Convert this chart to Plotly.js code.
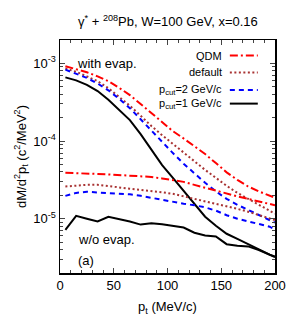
<!DOCTYPE html>
<html><head><meta charset="utf-8">
<script src="https://cdn.plot.ly/plotly-3.0.1.min.js"></script>
<style>html,body{margin:0;padding:0;background:#fff}#c{width:300px;height:332px}</style>
</head><body><div id="c"></div>
<script>
const pt = [5,15,25,35,45,55,65,75,85,95,105,115,125,135,145,155,165,175,185,195,200];

// with evaporation
const qdmWith  = [9.2e-4,8.4e-4,7.7e-4,6.8e-4,5.9e-4,4.85e-4,3.9e-4,3.0e-4,2.3e-4,1.78e-4,1.34e-4,1.08e-4,8.6e-5,6.8e-5,5.2e-5,3.95e-5,3.16e-5,2.6e-5,2.25e-5,1.97e-5,1.86e-5];
const defWith  = [8.6e-4,7.8e-4,6.8e-4,5.9e-4,4.8e-4,3.7e-4,2.85e-4,2.12e-4,1.56e-4,1.19e-4,9.2e-5,7.0e-5,5.4e-5,4.25e-5,3.36e-5,2.65e-5,2.15e-5,1.8e-5,1.51e-5,1.27e-5,1.16e-5];
const p2With   = [8.3e-4,7.4e-4,6.5e-4,5.5e-4,4.5e-4,3.5e-4,2.65e-4,1.91e-4,1.36e-4,9.7e-5,7.0e-5,5.1e-5,3.8e-5,2.9e-5,2.25e-5,1.8e-5,1.51e-5,1.29e-5,1.11e-5,9.6e-6,8.9e-6];
const p1With   = [6.6e-4,6.05e-4,5.3e-4,4.4e-4,3.4e-4,2.5e-4,1.86e-4,1.23e-4,7.7e-5,4.9e-5,3.36e-5,2.29e-5,1.56e-5,1.06e-5,8.1e-6,6.4e-6,5.5e-6,4.7e-6,4.0e-6,3.45e-6,3.26e-6];

// without evaporation
const qdmWo = [3.9e-5,3.83e-5,3.77e-5,3.77e-5,3.72e-5,3.67e-5,3.61e-5,3.56e-5,3.45e-5,3.3e-5,3.16e-5,2.98e-5,2.73e-5,2.5e-5,2.29e-5,2.09e-5,1.94e-5,1.8e-5,1.67e-5,1.56e-5,1.49e-5];
const defWo = [2.6e-5,2.69e-5,2.73e-5,2.73e-5,2.65e-5,2.53e-5,2.43e-5,2.35e-5,2.29e-5,2.19e-5,2.09e-5,1.94e-5,1.8e-5,1.7e-5,1.58e-5,1.45e-5,1.34e-5,1.23e-5,1.12e-5,1.01e-5,9.6e-6];
const p2Wo  = [1.97e-5,2.15e-5,2.22e-5,2.19e-5,2.15e-5,2.12e-5,2.06e-5,1.97e-5,1.86e-5,1.73e-5,1.63e-5,1.56e-5,1.49e-5,1.4e-5,1.27e-5,1.11e-5,1.0e-5,9.3e-6,8.6e-6,7.9e-6,7.2e-6];
const p1Wo  = [7.2e-6,1.09e-5,1.0e-5,9.2e-6,1.06e-5,9.9e-6,9.2e-6,8.4e-6,8.75e-6,8.5e-6,8.0e-6,7.7e-6,6.6e-6,6.1e-6,5.9e-6,4.7e-6,4.5e-6,4.4e-6,3.95e-6,3.4e-6,3.2e-6];

const seriesNames = ['QDM','default','p<sub>cut</sub>=2 GeV/c','p<sub>cut</sub>=1 GeV/c'];
const xTickVals = [0,50,100,150,200];
const yTickVals = [1e-5,1e-4,1e-3];
const yTickText = ['10<sup>-5</sup>','10<sup>-4</sup>','10<sup>-3</sup>'];

const styles = [
  {color:'#ff0000', dash:'8px,3px,2px,3px', width:2},
  {color:'#a83232', dash:'2px,2.5px', width:2},
  {color:'#0000ff', dash:'5px,4px', width:2},
  {color:'#000000', dash:'solid', width:2}
];
const withSets = [qdmWith, defWith, p2With, p1With];
const woSets = [qdmWo, defWo, p2Wo, p1Wo];

const traces = [];
withSets.forEach((ys,i)=>traces.push({x:pt,y:ys,type:'scatter',mode:'lines',line:styles[i],showlegend:false,hoverinfo:'skip'}));
woSets.forEach((ys,i)=>traces.push({x:pt,y:ys,type:'scatter',mode:'lines',line:styles[i],showlegend:false,hoverinfo:'skip'}));

const fnt = {family:'Liberation Sans, Arial, sans-serif', color:'#000'};
const legY = [0.933,0.861,0.785,0.727];
const annotations = [
  {text:'&#947;<sup>*</sup> + <sup>208</sup>Pb, W=100 GeV, x=0.16', xref:'paper', yref:'paper', x:0.5, y:1.08, xanchor:'center', yanchor:'middle', showarrow:false, font:Object.assign({size:13},fnt)},
  {text:'with evap.', xref:'paper', yref:'paper', x:0.072, y:0.897, xanchor:'left', yanchor:'middle', showarrow:false, font:Object.assign({size:13},fnt)},
  {text:'w/o evap.', xref:'paper', yref:'paper', x:0.075, y:0.142, xanchor:'left', yanchor:'middle', showarrow:false, font:Object.assign({size:13},fnt)},
  {text:'(a)', xref:'paper', yref:'paper', x:0.075, y:0.052, xanchor:'left', yanchor:'middle', showarrow:false, font:Object.assign({size:13},fnt)}
];
const shapes = [];
seriesNames.forEach((n,i)=>{
  annotations.push({text:n, xref:'paper', yref:'paper', x:0.765, y:legY[i], xanchor:'right', yanchor:'middle', showarrow:false, font:Object.assign({size:11},fnt)});
  shapes.push({type:'line', xref:'paper', yref:'paper', x0:0.79, x1:0.92, y0:legY[i], y1:legY[i], line:styles[i]});
});

const layout = {
  width:300, height:332,
  margin:{l:60, r:25, t:40, b:59},
  paper_bgcolor:'#fff', plot_bgcolor:'#fff',
  font:Object.assign({size:13},fnt),
  showlegend:false,
  xaxis:{range:[0,200], tickvals:xTickVals, ticks:'inside', ticklen:5, mirror:'ticks', showline:true, linecolor:'#000', linewidth:1.5, showgrid:false, zeroline:false,
    minor:{dtick:10, ticks:'inside', ticklen:3, showgrid:false},
    title:{text:'p<sub>t</sub> (MeV/c)', font:Object.assign({size:13},fnt), standoff:10}},
  yaxis:{type:'log', range:[Math.log10(2e-6), Math.log10(2e-3)], tickvals:yTickVals, ticktext:yTickText, ticks:'inside', ticklen:5, mirror:'ticks', showline:true, linecolor:'#000', linewidth:1.5, showgrid:false, zeroline:false,
    minor:{dtick:'D1', ticks:'inside', ticklen:3, showgrid:false},
    title:{text:'dM/d<sup>2</sup>p<sub>t</sub> (c<sup>2</sup>/MeV<sup>2</sup>)', font:Object.assign({size:13},fnt), standoff:4}},
  annotations:annotations,
  shapes:shapes
};
Plotly.newPlot('c', traces, layout, {staticPlot:true, displayModeBar:false});
</script></body></html>
